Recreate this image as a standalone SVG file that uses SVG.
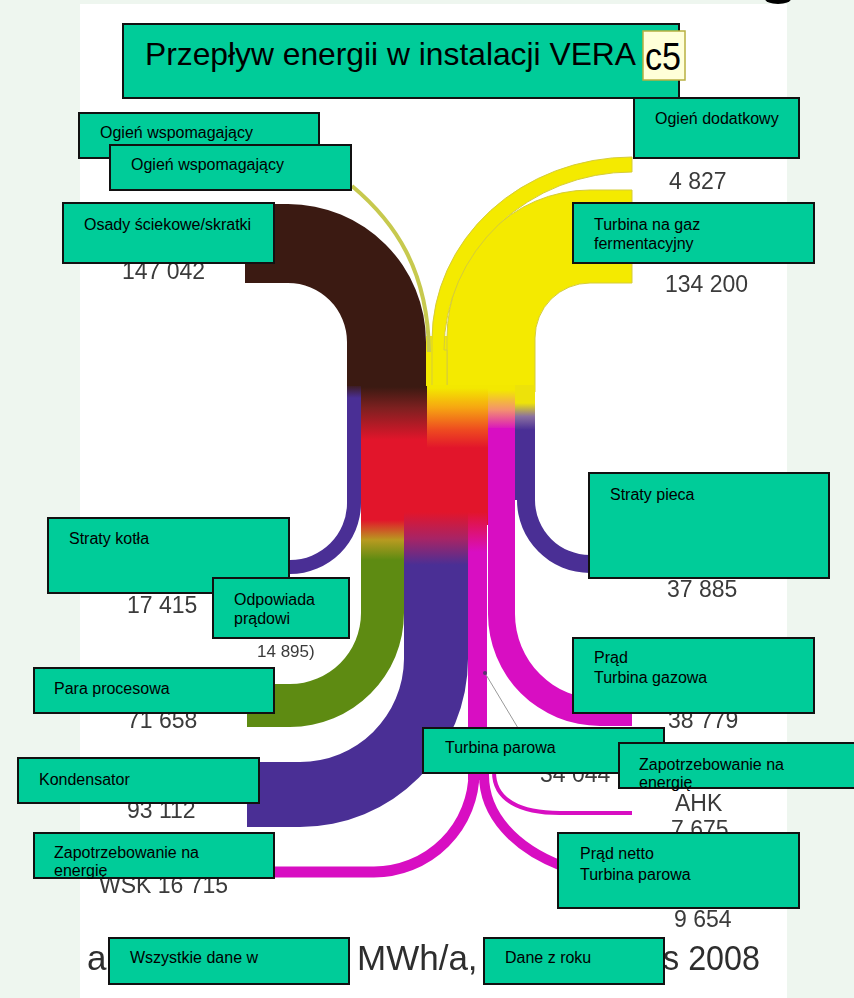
<svg xmlns="http://www.w3.org/2000/svg" width="854" height="998" viewBox="0 0 854 998">
<style>
.box{fill:#00CC99;stroke:#111;stroke-width:2}
.lbl{font-family:"Liberation Sans",Arial,sans-serif;font-size:16px;fill:#000}
.num{font-family:"Liberation Sans",Arial,sans-serif;font-size:23px;fill:#3a3a3a;filter:url(#soft)}
.big{font-family:"Liberation Sans",Arial,sans-serif;font-size:35px;fill:#2e2e2e;filter:url(#soft)}
.yel{fill:#F4EA00;stroke:#D5CC3A;stroke-width:1}
.pur{fill:#4A2F95}
.mag{fill:#D80EC2}
.magl{fill:none;stroke:#D80EC2}
</style>
<defs>
<filter id="soft" x="-5%" y="-20%" width="110%" height="140%"><feGaussianBlur stdDeviation="0.45"/></filter>
<linearGradient id="gBrownRed" gradientUnits="userSpaceOnUse" x1="0" y1="387" x2="0" y2="440"><stop offset="0" stop-color="#3B1A12"/><stop offset="0.4" stop-color="#7E2020"/><stop offset="1" stop-color="#E2152B"/></linearGradient>
<linearGradient id="gYelRed" gradientUnits="userSpaceOnUse" x1="0" y1="388" x2="0" y2="448"><stop offset="0" stop-color="#F3E800"/><stop offset="0.33" stop-color="#F6A512"/><stop offset="0.7" stop-color="#EE4A20"/><stop offset="1" stop-color="#E2152B"/></linearGradient>
<linearGradient id="gYelPink" gradientUnits="userSpaceOnUse" x1="0" y1="390" x2="0" y2="430"><stop offset="0" stop-color="#F3E800"/><stop offset="0.5" stop-color="#F39070"/><stop offset="1" stop-color="#D80EC2"/></linearGradient>
<linearGradient id="gYelPurp" gradientUnits="userSpaceOnUse" x1="0" y1="403" x2="0" y2="430"><stop offset="0" stop-color="#EDE20A"/><stop offset="0.5" stop-color="#8A70A0"/><stop offset="1" stop-color="#4A2F95"/></linearGradient>
<linearGradient id="gBrownPurp" gradientUnits="userSpaceOnUse" x1="0" y1="384" x2="0" y2="398"><stop offset="0" stop-color="#3B1A12"/><stop offset="1" stop-color="#4A2F95"/></linearGradient>
<linearGradient id="gRedGreen" gradientUnits="userSpaceOnUse" x1="0" y1="520" x2="0" y2="560"><stop offset="0" stop-color="#E2152B"/><stop offset="0.5" stop-color="#B89A20"/><stop offset="1" stop-color="#5E8B12"/></linearGradient>
<linearGradient id="gRedPurp" gradientUnits="userSpaceOnUse" x1="0" y1="512" x2="0" y2="565"><stop offset="0" stop-color="#E2152B"/><stop offset="0.5" stop-color="#A82465"/><stop offset="1" stop-color="#4A2F95"/></linearGradient>
<linearGradient id="gRedMag" gradientUnits="userSpaceOnUse" x1="0" y1="512" x2="0" y2="552"><stop offset="0" stop-color="#E2152B"/><stop offset="1" stop-color="#D80EC2"/></linearGradient>
</defs>

<rect width="854" height="998" fill="#EEF6EF"/>
<rect x="80" y="4" width="707" height="994" fill="#FFFFFF"/>
<ellipse cx="778" cy="-1" rx="13" ry="5" fill="#000"/>

<g id="connectors">
  <path d="M245,204 H288 A138,138 0 0 1 426,342 V392 H347 V342 A59,59 0 0 0 288,283 H245 Z" fill="#3B1A12"/>
  <rect x="426" y="336" width="109" height="56" fill="#F4EA00"/>
  <path class="yel" d="M632,190 H590 A143,148 0 0 0 447,338 V392 H535 V338 A55,55 0 0 1 590,283 H632 Z"/>
  <path class="yel" d="M632,157 A200,183 0 0 0 432,340 V392 H447 V350 L444,350 A188,178 0 0 1 632,172 Z"/>
  <path d="M352,186 C395,222 428,270 429,352" fill="none" stroke="#C7C94E" stroke-width="4"/>
  <rect x="361" y="420" width="127" height="105" fill="#E2152B"/>
  <rect x="361" y="386" width="67" height="56" fill="url(#gBrownRed)"/>
  <rect x="427" y="385" width="61" height="64" fill="url(#gYelRed)"/>
  <rect x="488" y="385" width="27" height="48" fill="url(#gYelPink)"/>
  <rect x="515" y="385" width="20" height="47" fill="url(#gYelPurp)"/>
  <path d="M347,386 H361 V503 A71,71 0 0 1 290,574 H285 V560 H290 A57,57 0 0 0 347,503 Z" fill="url(#gBrownPurp)"/>
  <path class="pur" d="M515,430 H535 V500 A55,55 0 0 0 590,555 H595 V573 H590 A73,73 0 0 1 517,500 L515,500 Z"/>
  <path d="M361,520 H404 V613 A114,114 0 0 1 290,727 H247 V684 H290 A71,71 0 0 0 361,613 Z" fill="url(#gRedGreen)"/>
  <path d="M404,512 H468 V659 A168,168 0 0 1 300,827 H247 V762 H300 A104,104 0 0 0 404,659 Z" fill="url(#gRedPurp)"/>
  <path class="mag" d="M488,428 H515 V614 A85,85 0 0 0 600,699 H632 V726 H600 A112,112 0 0 1 488,614 Z"/>
  <rect x="468" y="512" width="19" height="268" fill="url(#gRedMag)"/>
  <path class="magl" stroke-width="11" d="M474,760 V772 A100,100 0 0 1 374,872 H262"/>
  <path class="magl" stroke-width="10" d="M484,760 V775 C484,815 515,848 562,866"/>
  <path class="magl" stroke-width="4" d="M494,760 V772 C494,800 520,813 560,813 H632"/>
  <line x1="485" y1="673" x2="518" y2="728" stroke="#9A9A9A" stroke-width="1"/>
  <circle cx="485" cy="673" r="2" fill="#5A3070"/>
</g>

<g id="values">
  <text class="num" x="669" y="189">4 827</text>
  <text class="num" x="665" y="292">134 200</text>
  <text class="num" x="122" y="279">147 042</text>
  <text class="num" x="127" y="613">17 415</text>
  <text class="num" x="257" y="657" style="font-size:17px">14 895)</text>
  <text class="num" x="667" y="597">37 885</text>
  <text class="num" x="127" y="728">71 658</text>
  <text class="num" x="668" y="728">38 779</text>
  <text class="num" x="540" y="782">34 044</text>
  <text class="num" x="675" y="811">AHK</text>
  <text class="num" x="671" y="837">7 675</text>
  <text class="num" x="127" y="818">93 112</text>
  <text class="num" x="99" y="893">WSK 16 715</text>
  <text class="num" x="674" y="927">9 654</text>
  <text class="big" x="87" y="970">a</text>
  <text class="big" x="357" y="970">MWh/a,</text>
  <text class="big" x="663" y="970" textLength="97" lengthAdjust="spacingAndGlyphs">s 2008</text>
</g>

<g id="title">
  <rect class="box" x="123" y="24" width="556" height="74"/>
  <text x="145" y="65" textLength="491" lengthAdjust="spacingAndGlyphs" style="font-family:'Liberation Sans',Arial,sans-serif;font-size:32px;fill:#000">Przepływ energii w instalacji VERA</text>
</g>
<g id="c5">
  <rect x="643" y="31" width="42" height="49" fill="#FFFFD9" stroke="#B8B040" stroke-width="1.5"/>
  <text x="645" y="70" textLength="36" lengthAdjust="spacingAndGlyphs" style="font-family:'Liberation Sans',Arial,sans-serif;font-size:38px;fill:#000">c5</text>
</g>
<g id="ogien-dodatkowy">
  <rect class="box" x="634" y="98" width="165" height="60"/>
  <text class="lbl" x="655" y="124">Ogień dodatkowy</text>
</g>
<g id="ogien-wspomagajacy-1">
  <rect class="box" x="79" y="113" width="240" height="45"/>
  <text class="lbl" x="100" y="138">Ogień wspomagający</text>
</g>
<g id="ogien-wspomagajacy-2">
  <rect class="box" x="110" y="145" width="241" height="45"/>
  <text class="lbl" x="131" y="170">Ogień wspomagający</text>
</g>
<g id="osady">
  <rect class="box" x="63" y="203" width="211" height="60"/>
  <text class="lbl" x="84" y="230">Osady ściekowe/skratki</text>
</g>
<g id="turbina-gaz">
  <rect class="box" x="573" y="203" width="241" height="60"/>
  <text class="lbl" x="594" y="230">Turbina na gaz</text>
  <text class="lbl" x="594" y="249">fermentacyjny</text>
</g>
<g id="straty-pieca">
  <rect class="box" x="589" y="473" width="240" height="105"/>
  <text class="lbl" x="610" y="500">Straty pieca</text>
</g>
<g id="straty-kotla">
  <rect class="box" x="48" y="518" width="241" height="75"/>
  <text class="lbl" x="69" y="544">Straty kotła</text>
</g>
<g id="odpowiada">
  <rect class="box" x="213" y="578" width="136" height="60"/>
  <text class="lbl" x="234" y="605">Odpowiada</text>
  <text class="lbl" x="234" y="624">prądowi</text>
</g>
<g id="para">
  <rect class="box" x="34" y="668" width="240" height="45"/>
  <text class="lbl" x="54" y="694">Para procesowa</text>
</g>
<g id="prad-gazowa">
  <rect class="box" x="573" y="638" width="241" height="75"/>
  <text class="lbl" x="594" y="663">Prąd</text>
  <text class="lbl" x="594" y="683">Turbina gazowa</text>
</g>
<g id="turbina-parowa">
  <rect class="box" x="423" y="728" width="241" height="45"/>
  <text class="lbl" x="445" y="753">Turbina parowa</text>
</g>
<g id="zapotrzebowanie-ahk">
  <rect class="box" x="619" y="743" width="241" height="45"/>
  <text class="lbl" x="639" y="770">Zapotrzebowanie na</text>
  <text class="lbl" x="639" y="788">energię</text>
</g>
<g id="kondensator">
  <rect class="box" x="18" y="758" width="241" height="45"/>
  <text class="lbl" x="39" y="785">Kondensator</text>
</g>
<g id="zapotrzebowanie-wsk">
  <rect class="box" x="34" y="833" width="240" height="45"/>
  <text class="lbl" x="54" y="858">Zapotrzebowanie na</text>
  <text class="lbl" x="54" y="876">energię</text>
</g>
<g id="prad-netto">
  <rect class="box" x="558" y="833" width="241" height="75"/>
  <text class="lbl" x="580" y="859">Prąd netto</text>
  <text class="lbl" x="580" y="880">Turbina parowa</text>
</g>
<g id="wszystkie">
  <rect class="box" x="109" y="938" width="240" height="46"/>
  <text class="lbl" x="130" y="963">Wszystkie dane w</text>
</g>
<g id="dane-z-roku">
  <rect class="box" x="484" y="938" width="180" height="46"/>
  <text class="lbl" x="505" y="963">Dane z roku</text>
</g>
</svg>
